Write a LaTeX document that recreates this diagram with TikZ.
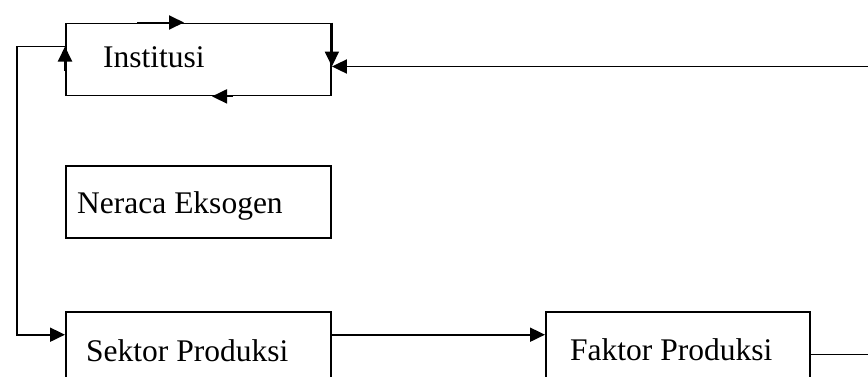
\documentclass[tikz,border=0pt]{standalone}
\usepackage{fontspec}
\setmainfont{Liberation Serif}
\usepackage{tikz}
\usetikzlibrary{arrows.meta}
\usetikzlibrary{positioning}

\tikzset{
  box/.style={draw, line width=1.9pt, anchor=north west, minimum width=265pt, minimum height=72pt, inner sep=0pt},
  lbl/.style={anchor=base west, inner sep=0pt, font=\fontsize{31.5}{38}\selectfont},
  line/.style={line width=1.9pt},
}

\begin{document}
\begin{tikzpicture}[x=1pt, y=-1pt, >={Triangle[length=15pt, width=14pt]}]
    \clip (0, 0) rectangle (868, 376);

    \node(inst) [box] at (65, 22.5) {};
    \node(nera) [box] at (65, 165) {};
    \node(sek) [box] at (65, 311) {};
    \node(fak) [box, minimum width=264pt] at (545, 311) {};

    \node(instt) [lbl] at (103, 67) {Institusi};
    \node(nerat) [lbl] at (77, 213) {Neraca Eksogen};
    \node(sekt) [lbl] at (86, 361) {Sektor Produksi};
    \node(fakt) [lbl] at (570, 360) {Faktor Produksi};

    \coordinate(lt) at (17, 46.5);
    \coordinate(lb) at (17, 334.7);
    \coordinate(rt) at (868, 66.5);
    \coordinate(rb) at (868, 354.5);

    % loop round the institution box
    \draw[line, ->] ([xshift=72pt]inst.north west) -- ([xshift=119pt]inst.north west);
    \draw[line, ->] ([xshift=168pt]inst.south west) -- ([xshift=147pt]inst.south west);
    \draw[line, ->] ([yshift=-48pt]inst.north west) -- ([yshift=-24pt]inst.north west);
    \draw[line, ->] (inst.north east) -- ([yshift=-44pt]inst.north east);

    \draw[line, ->] ([yshift=-24pt]inst.north west) -- (lt) -- (lb) -- ([yshift=-23.7pt]sek.north west);
    \draw[line, ->] (rt) -- (rt -| inst.east);
    \draw[line, ->] ([yshift=-23.7pt]sek.north east) -- ([yshift=-23.7pt]fak.north west);
    \draw[line] ([yshift=-43.5pt]fak.north east) -- (rb);
  \end{tikzpicture}
\end{document}
